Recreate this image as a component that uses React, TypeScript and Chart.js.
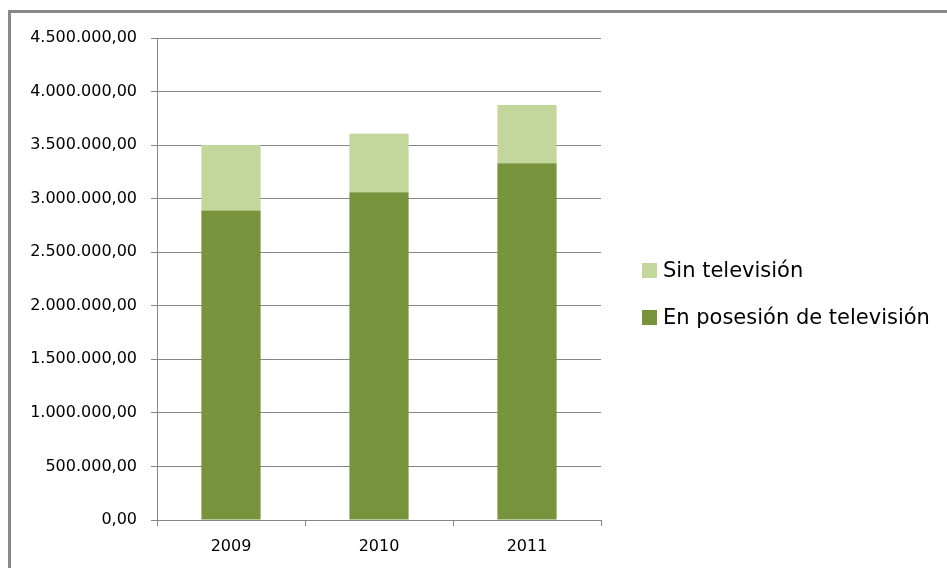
import React, { useEffect, useRef } from 'react';
import { Chart, registerables } from 'chart.js';

Chart.register(...registerables);

const categories = ['2009', '2010', '2011'];
const conTelevision = [2890000, 3060000, 3330000];
const sinTelevision = [610000, 545000, 545000];
const seriesNames = ['En posesión de televisión', 'Sin televisión'];
const seriesColors = ['#77933C', '#C3D69B'];
const yMin = 0;
const yMax = 4500000;
const yStep = 500000;

const FONT = "'DejaVu Sans', sans-serif";
const GRID = '#868686';

function fmt(v: number): string {
  const n = Math.round(v);
  const s = String(n).replace(/\B(?=(\d{3})+(?!\d))/g, '.');
  return s + ',00';
}

export default function App() {
  const ref = useRef<HTMLCanvasElement | null>(null);

  useEffect(() => {
    if (!ref.current) return;
    const chart = new Chart(ref.current, {
      type: 'bar',
      data: {
        labels: categories,
        datasets: [
          {
            label: seriesNames[0],
            data: conTelevision,
            backgroundColor: seriesColors[0],
            borderWidth: 0,
            categoryPercentage: 0.8,
            barPercentage: 0.5,
          },
          {
            label: seriesNames[1],
            data: sinTelevision,
            backgroundColor: seriesColors[1],
            borderWidth: 0,
            categoryPercentage: 0.8,
            barPercentage: 0.5,
          },
        ],
      },
      options: {
        animation: false,
        responsive: true,
        maintainAspectRatio: false,
        layout: { padding: { top: 38, right: 346, bottom: 0, left: 0 } },
        plugins: { legend: { display: false }, tooltip: { enabled: false } },
        scales: {
          x: {
            stacked: true,
            grid: { drawOnChartArea: false, drawTicks: true, tickLength: 6, color: GRID, offset: true },
            border: { display: true, color: GRID, width: 1 },
            ticks: { color: '#000', font: { family: FONT, size: 16 }, padding: 11 },
            afterFit: (s: any) => { s.height = 48; },
          },
          y: {
            stacked: true,
            min: yMin,
            max: yMax,
            ticks: {
              stepSize: yStep,
              color: '#000',
              font: { family: FONT, size: 16 },
              padding: 14,
              callback: (v: any) => fmt(Number(v)),
            },
            grid: { color: GRID, lineWidth: 1, tickLength: 6, drawTicks: true },
            border: { display: true, color: GRID, width: 1 },
            afterFit: (s: any) => { s.width = 157; },
          },
        },
      },
    });
    return () => chart.destroy();
  }, []);

  const legendItems = [1, 0];

  return (
    <div style={{ position: 'fixed', left: 0, top: 0, width: 947, height: 568, overflow: 'hidden', background: '#fff' }}>
      <div style={{ position: 'absolute', left: 8, top: 10, width: 1200, height: 1200, border: '3px solid #898989', boxSizing: 'border-box' }} />
      <div style={{ position: 'absolute', left: 0, top: 0, width: 947, height: 568 }}>
        <canvas ref={ref} />
      </div>
      {legendItems.map((i, k) => (
        <div
          key={i}
          style={{
            position: 'absolute',
            left: 642,
            top: 263 + k * 47,
            height: 15,
            display: 'flex',
            alignItems: 'center',
            fontFamily: FONT,
            fontSize: 21,
            color: '#000',
            whiteSpace: 'nowrap',
          }}
        >
          <span style={{ display: 'inline-block', width: 15, height: 15, background: seriesColors[i], marginRight: 6 }} />
          <span style={{ lineHeight: '15px' }}>{seriesNames[i]}</span>
        </div>
      ))}
    </div>
  );
}
